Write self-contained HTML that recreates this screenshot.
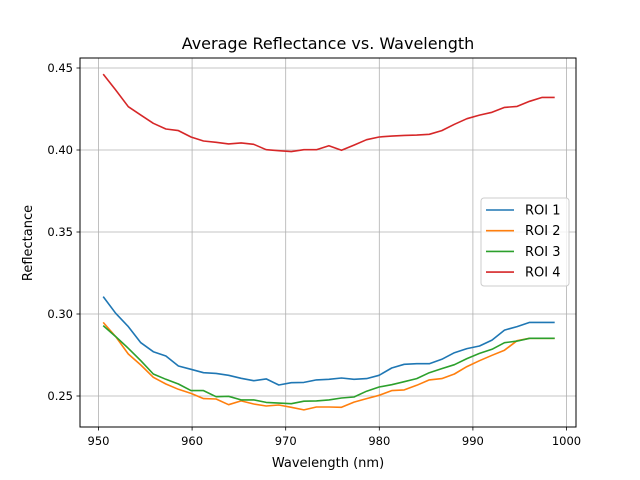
<!DOCTYPE html>
<html><head><meta charset="utf-8"><style>
body{margin:0;background:#fff}
svg{display:block;font-family:"DejaVu Sans","Liberation Sans",sans-serif}
</style></head><body>
<svg id="chart" width="640" height="480" viewBox="0 0 640 480">
<rect width="640" height="480" fill="#fff"/>
<g id="grid"></g>
<g id="lines"></g>
<rect x="80" y="58" width="496" height="369" fill="none" stroke="#000" stroke-width="1"/>
<g id="ticks"></g>
<text x="328" y="49" text-anchor="middle" font-size="16">Average Reflectance vs. Wavelength</text>
<text x="328" y="467" text-anchor="middle" font-size="13">Wavelength (nm)</text>
<text x="32" y="243" text-anchor="middle" font-size="13" transform="rotate(-90 32 243)">Reflectance</text>
<g id="legend"></g>
</svg>
<script>
const wlStart = 950.5, wlStep = 1.34;
const seriesNames = ["ROI 1","ROI 2","ROI 3","ROI 4"];
const seriesColors = ["#1f77b4","#ff7f0e","#2ca02c","#d62728"];
const roi1 = [0.3106,0.3004,0.2923,0.2825,0.2770,0.2744,0.2683,0.2663,0.2642,0.2638,0.2626,0.2608,0.2593,0.2604,0.2567,0.2581,0.2583,0.2598,0.2602,0.2610,0.2602,0.2606,0.2626,0.2671,0.2693,0.2697,0.2697,0.2724,0.2764,0.2789,0.2805,0.2841,0.2902,0.2923,0.2949,0.2949,0.2949];
const roi2 = [0.2949,0.2862,0.2756,0.2689,0.2614,0.2573,0.2541,0.2516,0.2484,0.2482,0.2447,0.2470,0.2451,0.2439,0.2445,0.2431,0.2415,0.2433,0.2433,0.2431,0.2463,0.2484,0.2504,0.2533,0.2537,0.2565,0.2598,0.2606,0.2634,0.2679,0.2715,0.2748,0.2779,0.2837,0.2852,0.2852,0.2852];
const roi3 = [0.2929,0.2862,0.2791,0.2715,0.2634,0.2602,0.2573,0.2533,0.2533,0.2496,0.2498,0.2476,0.2476,0.2461,0.2457,0.2453,0.2468,0.2470,0.2476,0.2488,0.2494,0.2529,0.2555,0.2569,0.2587,0.2606,0.2642,0.2667,0.2691,0.2728,0.2760,0.2785,0.2825,0.2835,0.2852,0.2852,0.2852];
const roi4 = [0.4463,0.4366,0.4264,0.4213,0.4163,0.4128,0.4118,0.4079,0.4055,0.4047,0.4037,0.4043,0.4035,0.4002,0.3996,0.3990,0.4002,0.4002,0.4026,0.3998,0.4030,0.4063,0.4079,0.4085,0.4089,0.4091,0.4096,0.4118,0.4157,0.4191,0.4213,0.4230,0.4260,0.4266,0.4297,0.4321,0.4321];
const xTicks = [950,960,970,980,990,1000];
const yTicks = [0.25,0.30,0.35,0.40,0.45];
const yTickLabels = ["0.25","0.30","0.35","0.40","0.45"];

const NS="http://www.w3.org/2000/svg";
function X(v){return 98.5+(v-950)*9.36;}
function Y(v){return 396-(v-0.25)*1640;}
function mk(tag,attrs,parent){const e=document.createElementNS(NS,tag);for(const k in attrs)e.setAttribute(k,attrs[k]);parent.appendChild(e);return e;}
const grid=document.getElementById('grid'),ticks=document.getElementById('ticks'),lines=document.getElementById('lines'),legend=document.getElementById('legend');
xTicks.forEach(t=>{
  const x=X(t);
  const g=mk('line',{x1:x,x2:x,y1:58,y2:427,stroke:'#b0b0b0','stroke-width':0.8},grid);
  
  
  const tk=mk('line',{x1:x,x2:x,y1:427,y2:430.5,stroke:'#000','stroke-width':0.8},ticks);
  
  
  const tx=mk('text',{x:x,y:445,'text-anchor':'middle','font-size':11.5},ticks);
  tx.textContent=t;
  
  
});
yTicks.forEach((t,i)=>{
  const y=Y(t);
  const g=mk('line',{x1:80,x2:576,y1:y,y2:y,stroke:'#b0b0b0','stroke-width':0.8},grid);
  
  
  const tk=mk('line',{x1:76.5,x2:80,y1:y,y2:y,stroke:'#000','stroke-width':0.8},ticks);
  
  
  const tx=mk('text',{x:73,y:y+4,'text-anchor':'end','font-size':11.5},ticks);
  tx.textContent=yTickLabels[i];
  
  
});
[roi1,roi2,roi3,roi4].forEach((s,i)=>{
  const pts=s.map((v,j)=>X(wlStart+j*wlStep).toFixed(1)+','+Y(v).toFixed(1)).join(' ');
  const p=mk('polyline',{points:pts,fill:'none',stroke:seriesColors[i],'stroke-width':1.6,'stroke-linejoin':'round'},lines);
  
  
});
const box=mk('rect',{x:481,y:198,width:88,height:88,rx:3,fill:'#fff','fill-opacity':0.8,stroke:'#ccc','stroke-width':1},legend);


seriesNames.forEach((n,i)=>{
  const y=210+i*20.7;
  const l=mk('line',{x1:486,x2:514,y1:y,y2:y,stroke:seriesColors[i],'stroke-width':1.6},legend);
  
  
  const t=mk('text',{x:525,y:y+4.5,'font-size':13},legend);
  t.textContent=n;
  
  
});
</script>
</body></html>
